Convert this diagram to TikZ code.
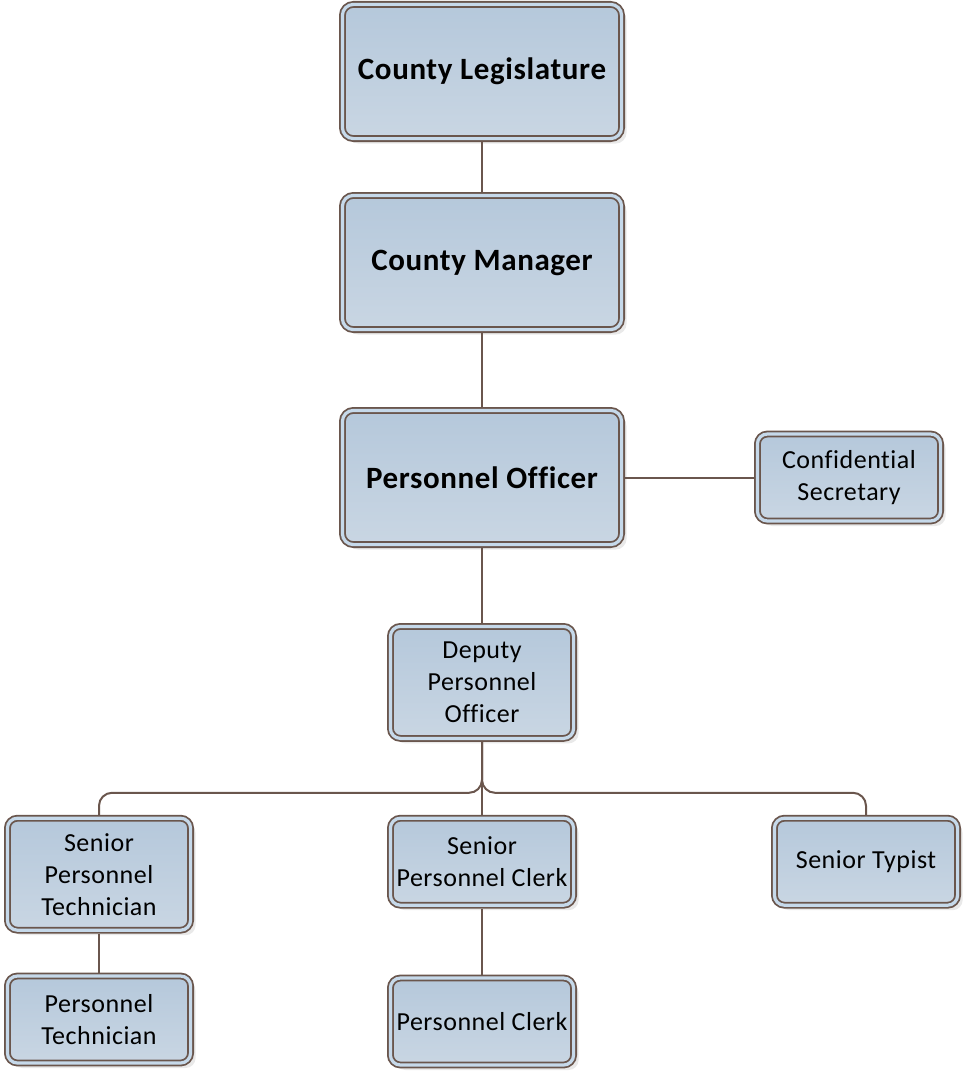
\documentclass[tikz,border=0pt]{standalone}
\usepackage{fontspec}
\setmainfont{Carlito}[Ligatures=CommonOff, LetterSpace=2]
\usepackage{tikz}
\usetikzlibrary{positioning,shadows}
\definecolor{OrgLine}{HTML}{6A564D}
\definecolor{OrgBand}{HTML}{C6D9EA}
\definecolor{OrgTop}{HTML}{B5C8DB}
\definecolor{OrgBot}{HTML}{C9D6E3}

\begin{document}
\begin{tikzpicture}[
  x=1pt, y=-1pt,
  orgbox/.style={draw=OrgLine, line width=1.8pt, double=OrgBand, double distance=3.2pt,
    top color=OrgTop, bottom color=OrgBot, rounded corners=10pt, outer sep=3.4pt,
    minimum width=183.2pt, minimum height=87pt, align=center, inner sep=2pt,
    font=\fontsize{26}{32}\selectfont,
    drop shadow={shadow xshift=5pt, shadow yshift=-5pt, fill=black!14, opacity=0.6}},
  orgtall/.style={orgbox, minimum height=112pt},
  orgbig/.style={orgbox, minimum width=279.2pt, minimum height=134.2pt, rounded corners=11pt,
    font=\fontsize{31}{37}\selectfont\bfseries},
  orgline/.style={draw=OrgLine, line width=2pt}
]
\useasboundingbox (0,0) rectangle (963,1073);
\node[orgbig] (legis) at (482,71.5) {County Legislature};
\node[orgbig, below=50pt of legis] (manager) {County Manager};
\node[orgbig, below=74pt of manager] (officer) {Personnel Officer};
\node[orgbox, right=129pt of officer] (secretary) {Confidential\\Secretary};
\node[orgtall, below=75pt of officer] (deputy) {Deputy\\Personnel\\Officer};
\node[orgbox, below=73pt of deputy] (srclerk) {Senior\\Personnel Clerk};
\node[orgtall, left=193pt of srclerk.north west, anchor=north east] (srtech) {Senior\\Personnel\\Technician};
\node[orgbox, right=194pt of srclerk.north east, anchor=north west] (typist) {Senior Typist};
\node[orgbox, below=39pt of srtech] (tech) {Personnel\\Technician};
\node[orgbox, below=66pt of srclerk] (clerk) {Personnel Clerk};
\coordinate[below=51pt of deputy.south] (bus);
% chain of command
\draw[orgline] (legis) -- (manager);
\draw[orgline] (manager) -- (officer);
\draw[orgline] (officer) -- (secretary);
\draw[orgline] (officer) -- (deputy);
\draw[orgline, rounded corners=13pt] (deputy.south) -- (bus) -| (srtech.north);
\draw[orgline, rounded corners=13pt] (deputy.south) -- (bus) -| (typist.north);
\draw[orgline] (deputy) -- (srclerk);
\draw[orgline] (srtech) -- (tech);
\draw[orgline] (srclerk) -- (clerk);
\end{tikzpicture}
\end{document}
